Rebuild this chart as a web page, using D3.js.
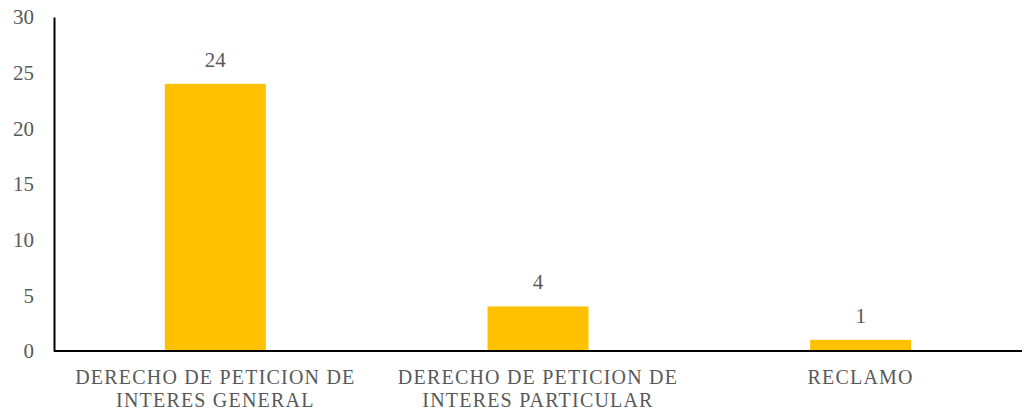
<!DOCTYPE html>
<html lang="es">
<head>
    <meta charset="UTF-8">
    <title>chart</title>
    <style>
        body { margin: 0; background: #fff; }
    </style>
</head>
<body>
    <script src="https://d3js.org/d3.v7.min.js"></script>
    <script>
        const categories = [
            ['DERECHO DE PETICION DE', 'INTERES GENERAL'],
            ['DERECHO DE PETICION DE', 'INTERES PARTICULAR'],
            ['RECLAMO']
        ];
        const values = [24, 4, 1];
        const yTicks = [0, 5, 10, 15, 20, 25, 30];

        const width = 1025,
            height = 411,
            font = '"Liberation Serif", serif',
            margin = { top: 17, right: 3, bottom: 60, left: 54 };

        const svg = d3.select('body').append('svg')
            .attr('width', width).attr('height', height)
            .style('font-family', font);

        const x = d3.scaleBand()
            .domain(d3.range(values.length))
            .range([margin.left, width - margin.right])
            .paddingInner(0.687)
            .paddingOuter(0.3435);

        const y = d3.scaleLinear()
            .domain([0, 30])
            .range([height - margin.bottom, margin.top]);

        // bars
        svg.append('g')
            .selectAll('rect')
            .data(values)
            .enter().append('rect')
            .attr('x', (d, i) => x(i))
            .attr('y', d => y(d))
            .attr('width', x.bandwidth())
            .attr('height', d => y(0) - y(d))
            .attr('fill', '#ffc000');

        // value labels
        svg.append('g')
            .selectAll('text')
            .data(values)
            .enter().append('text')
            .attr('x', (d, i) => x(i) + x.bandwidth() / 2)
            .attr('y', d => y(d) - 17)
            .attr('text-anchor', 'middle')
            .style('font-family', font)
            .style('font-size', '21px')
            .attr('fill', '#595959')
            .text(d => d);

        // y axis
        const yAxis = svg.append('g')
            .attr('transform', `translate(${margin.left},0)`)
            .call(d3.axisLeft(y).tickValues(yTicks).tickSize(0).tickPadding(20));
        yAxis.attr('font-family', null);
        yAxis.select('.domain').attr('stroke', '#000').attr('stroke-width', 2);
        yAxis.selectAll('text')
            .style('font-family', font)
            .style('font-size', '21px')
            .attr('fill', '#595959');

        // x baseline
        svg.append('line')
            .attr('x1', margin.left).attr('x2', width - margin.right)
            .attr('y1', y(0)).attr('y2', y(0))
            .attr('stroke', '#000').attr('stroke-width', 2);

        // category labels
        const cat = svg.append('g')
            .selectAll('text')
            .data(categories)
            .enter().append('text')
            .attr('x', (d, i) => x(i) + x.bandwidth() / 2)
            .attr('y', y(0) + 33)
            .attr('text-anchor', 'middle')
            .style('font-family', font)
            .style('font-size', '20px')
            .style('letter-spacing', '1.2px')
            .attr('fill', '#595959');
        cat.selectAll('tspan')
            .data(d => d)
            .enter().append('tspan')
            .attr('x', function() { return this.parentNode.getAttribute('x'); })
            .attr('dy', (d, i) => i === 0 ? 0 : 23)
            .text(d => d);
    </script>
</body>
</html>
